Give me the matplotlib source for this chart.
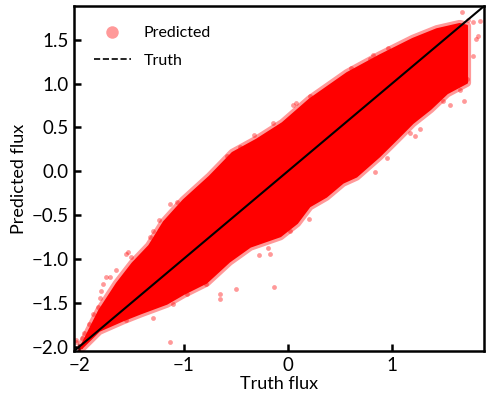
import numpy as np
import matplotlib
matplotlib.use("Agg")
import matplotlib.pyplot as plt
from matplotlib.lines import Line2D

plt.rcParams['font.family'] = ['Lato', 'DejaVu Sans']

# dense core of the cloud: upper and lower edges (truth, predicted)
upper_truth = [-1.98, -1.81, -1.64, -1.49, -1.33, -1.19, -1.00, -0.75, -0.53,
               -0.30, -0.05, 0.21, 0.57, 0.88, 1.20, 1.43, 1.65, 1.72]
upper_pred = [-1.99, -1.59, -1.28, -1.05, -0.85, -0.58, -0.33, -0.06, 0.21,
              0.36, 0.55, 0.82, 1.12, 1.32, 1.51, 1.62, 1.68, 1.66]
lower_truth = [-1.98, -1.81, -1.58, -1.41, -1.16, -1.00, -0.78, -0.56, -0.36,
               -0.07, 0.09, 0.21, 0.37, 0.53, 0.66, 0.88, 1.05, 1.20, 1.37,
               1.53, 1.72]
lower_pred = [-2.02, -1.82, -1.70, -1.62, -1.51, -1.40, -1.27, -1.03, -0.86,
              -0.74, -0.59, -0.40, -0.29, -0.13, -0.06, 0.17, 0.37, 0.55, 0.71,
              0.89, 1.01]

# scattered points outside the core
out_truth = [-1.74, -1.77, -1.79, -1.80, -1.82, -1.87, -1.91, -1.96, -2.03,
             -1.53, -1.50, -1.24, -1.29, -1.32, -1.13, -1.06, -0.73, -0.65,
             -0.58, -0.49, -1.13, -0.50, -0.65, -0.65, -0.13, -0.28, -0.17,
             -0.78, -0.97, -1.10, -1.42, -1.55, -1.29, -1.71, -1.65, -1.55,
             -2.03, -1.97, -0.19, 0.20, 0.02, 1.67, 1.73, 1.78, 1.85, 1.83,
             1.81, 1.78, 1.72, 1.65, 1.69, 1.56, 1.49, 1.43, 1.33, 1.27, 1.22,
             1.17, 0.95, 0.84, 0.96, 0.79, 0.61, 0.44, 0.08, 0.05, 0.21, 0.82,
             -0.14, -0.32, -0.46]
out_pred = [-1.21, -1.28, -1.36, -1.44, -1.55, -1.63, -1.74, -1.84, -1.93,
            -0.92, -0.98, -0.56, -0.68, -0.75, -0.37, -0.35, -0.05, 0.01,
            0.18, 0.20, -1.95, -1.34, -1.40, -1.46, -1.32, -0.96, -0.94,
            -1.28, -1.40, -1.51, -1.59, -1.70, -1.67, -1.21, -1.13, -0.94,
            -1.95, -1.90, -0.88, -0.54, -0.68, 1.82, 1.73, 1.70, 1.72, 1.54,
            1.51, 1.32, 1.05, 0.93, 0.80, 0.76, 0.80, 0.86, 0.74, 0.48, 0.40,
            0.44, 0.15, -0.01, 1.41, 1.28, 1.18, 0.97, 0.78, 0.76, 0.86, 1.33,
            0.55, 0.41, 0.28]

lims = [-2.05, 1.885]


def main():
    fig = plt.figure(figsize=(4.91, 4.03), dpi=100)
    ax = fig.add_axes([0.151, 0.129, 0.835, 0.856])

    # core as one polygon, with a soft edge like overlapping dots
    poly_x = upper_truth + lower_truth[::-1]
    poly_y = upper_pred + lower_pred[::-1]
    ax.fill(poly_x, poly_y, facecolor='red', edgecolor=(1, 0, 0, 0.4),
            linewidth=6, joinstyle='round', zorder=2)
    ax.fill(poly_x, poly_y, facecolor='red', edgecolor='red',
            linewidth=1.5, joinstyle='round', zorder=2)
    ax.scatter(out_truth, out_pred, s=12, color='red', alpha=0.4,
               linewidths=0, zorder=2)

    ax.plot(lims, lims, color='black', linewidth=1.5, zorder=3)

    ax.set_xlim(lims)
    ax.set_ylim(lims)
    ax.set_xticks([-2, -1, 0, 1])
    ax.set_yticks([-2.0, -1.5, -1.0, -0.5, 0.0, 0.5, 1.0, 1.5])
    ax.set_yticklabels(['−2.0', '−1.5', '−1.0', '−0.5', '0.0', '0.5', '1.0', '1.5'])
    ax.set_xticklabels(['−2', '−1', '0', '1'])
    ax.tick_params(direction='in', length=5, width=1.8, labelsize=13.5, pad=4)
    for sp in ax.spines.values():
        sp.set_linewidth(1.8)

    ax.set_xlabel('Truth flux', fontsize=13, labelpad=2)
    ax.set_ylabel('Predicted flux', fontsize=13, labelpad=3)

    handles = [Line2D([], [], marker='o', linestyle='none', color='red',
                      alpha=0.4, markersize=9, markeredgewidth=0),
               Line2D([], [], color='black', linestyle='--', linewidth=1.2)]
    ax.legend(handles, ['Predicted', 'Truth'], loc='upper left', frameon=False,
              fontsize=11.5, handlelength=2.3, borderpad=0.75, labelspacing=0.85)

    fig.savefig('out.png', dpi=100)


if __name__ == "__main__":
    main()
